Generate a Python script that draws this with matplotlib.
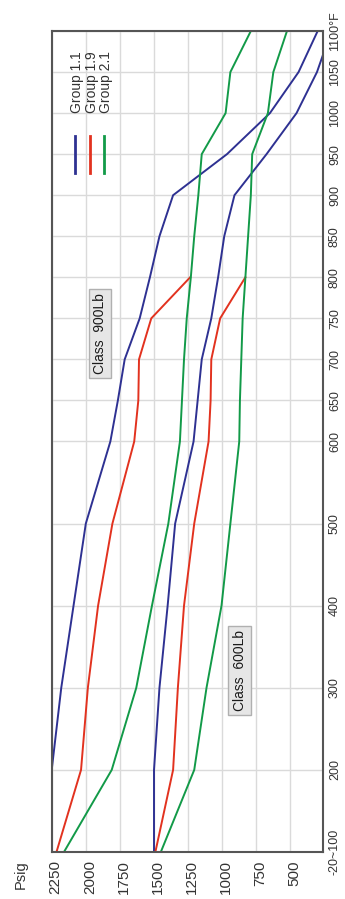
import matplotlib
matplotlib.use('Agg')
import matplotlib.pyplot as plt
import matplotlib.transforms as mtransforms
from matplotlib.lines import Line2D

plt.rcParams['font.family'] = ['Liberation Sans', 'DejaVu Sans']

# ---------------- data ----------------
temps = [100, 200, 300, 400, 500, 600, 650, 700, 750, 800, 850, 900, 950, 1000, 1050, 1100]
temp_labels = ['-20~100', '200', '300', '400', '500', '600', '650', '700', '750',
               '800', '850', '900', '950', '1000', '1050', '1100°F']
psig_ticks = [2250, 2000, 1750, 1500, 1250, 1000, 750, 500]

# Group 1.1 (blue)
g11_900 = [2250, 2250, 2180, 2090, 2000, 1820, 1765, 1715, 1605, 1530, 1460, 1360, 965, 650, 440, 300]
g11_600 = [1500, 1500, 1460, 1400, 1345, 1210, 1180, 1150, 1080, 1030, 985, 910, 675, 455, 305, 200]
# Group 1.9 (red) - up to 800 F
g19_temps = [100, 200, 300, 400, 500, 600, 650, 700, 750, 800]
g19_900 = [2215, 2035, 1985, 1910, 1805, 1645, 1615, 1610, 1520, 1235]
g19_600 = [1490, 1360, 1325, 1280, 1205, 1100, 1085, 1080, 1015, 830]
# Group 2.1 (green)
g21_900 = [2160, 1810, 1630, 1515, 1395, 1310, 1295, 1280, 1260, 1230, 1205, 1175, 1150, 975, 940, 790]
g21_600 = [1450, 1205, 1115, 1005, 940, 875, 870, 860, 850, 830, 810, 790, 780, 665, 625, 525]

groups = ['Group 1.1', 'Group 1.9', 'Group 2.1']
colors = ['#2e3192', '#e2321f', '#129a48']

# ---------------- figure ----------------
fig = plt.figure(figsize=(3.45, 8.99), dpi=100)
ax = fig.add_axes([0.1499, 0.0523, 0.7855, 0.9132])

lw = 1.4
ax.plot(g11_900, temps, color=colors[0], lw=lw)
ax.plot(g11_600, temps, color=colors[0], lw=lw)
ax.plot(g19_900, g19_temps, color=colors[1], lw=lw)
ax.plot(g19_600, g19_temps, color=colors[1], lw=lw)
ax.plot(g21_900, temps, color=colors[2], lw=lw)
ax.plot(g21_600, temps, color=colors[2], lw=lw)

ax.set_xlim(2250, 263)
ax.set_ylim(100, 1100)

ax.set_xticks(psig_ticks)
ax.set_xticklabels([str(v) for v in psig_ticks])
ax.set_yticks(temps)
ax.set_yticklabels(temp_labels)
ax.yaxis.tick_right()

ax.grid(True, color='#dadada', lw=1.0)
ax.set_axisbelow(True)
for sp in ax.spines.values():
    sp.set_color('#555555')
    sp.set_linewidth(1.5)

ax.tick_params(axis='x', length=0, pad=6, labelsize=11, labelcolor='#333333')
ax.tick_params(axis='y', length=0, pad=4.5, labelsize=9, labelcolor='#333333')

for lab in ax.get_xticklabels():
    lab.set_rotation(90)
    lab.set_ha('center')
    lab.set_va('top')
off = mtransforms.ScaledTranslation(4 / 100, 0, fig.dpi_scale_trans)
for lab in ax.get_xticklabels():
    lab.set_transform(lab.get_transform() + off)
for lab in ax.get_yticklabels():
    lab.set_rotation(90)
    lab.set_va('center')
    lab.set_ha('left')

fig.text(21 / 345, 1 - 875 / 899, 'Psig', rotation=90, ha='center', va='center',
         fontsize=10.5, color='#333333')

# class labels
box = dict(boxstyle='square,pad=0.3', fc='#e6e6e6', ec='#b0b0b0', lw=1)
ax.text(1896, 732, 'Class  900Lb', rotation=90, ha='center', va='center',
        fontsize=10, color='#1a1a1a', bbox=box)
ax.text(873, 321, 'Class  600Lb', rotation=90, ha='center', va='center',
        fontsize=10, color='#1a1a1a', bbox=box)

# legend (rotated)
leg_x = [0.086, 0.141, 0.193]
txt_x = [0.092, 0.148, 0.199]
for lx, tx, c, g in zip(leg_x, txt_x, colors, groups):
    ax.add_line(Line2D([lx, lx], [0.827, 0.872], transform=ax.transAxes, color=c, lw=2))
    ax.text(tx, 0.900, g, transform=ax.transAxes, rotation=90, ha='center', va='bottom',
            fontsize=10, color='#333333')

fig.savefig('out.png', dpi=100)
